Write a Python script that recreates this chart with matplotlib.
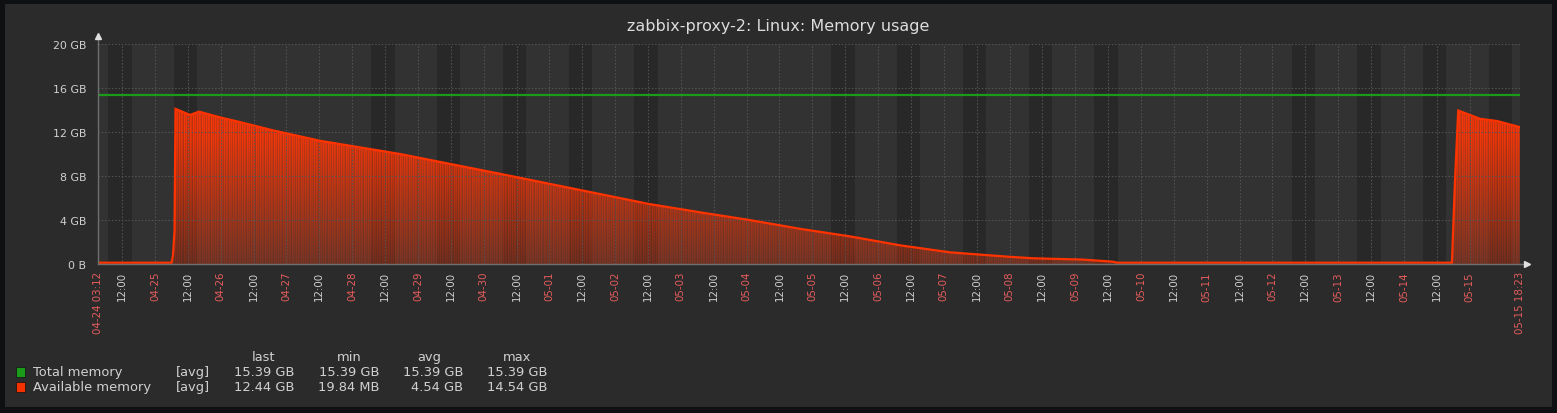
import numpy as np
import pandas as pd
import matplotlib
matplotlib.use("Agg")
import matplotlib.pyplot as plt
import matplotlib.dates as mdates
from matplotlib.patches import Rectangle

W, H = 1557, 414

# data (GB)
total_times = ["2025-04-24 03:12", "2025-05-15 18:23"]
total_values = [15.39, 15.39]

avail_times = [
    "2025-04-24 03:12", "2025-04-25 06:02", "2025-04-25 06:35", "2025-04-25 07:08",
    "2025-04-25 07:30", "2025-04-25 12:47", "2025-04-25 16:04", "2025-04-25 23:44",
    "2025-04-26 07:02", "2025-04-26 19:05", "2025-04-27 12:15", "2025-04-28 17:28",
    "2025-04-30 05:58", "2025-05-01 18:29", "2025-05-02 12:30", "2025-05-03 06:59",
    "2025-05-04 01:00", "2025-05-04 19:30", "2025-05-05 14:00", "2025-05-06 08:00",
    "2025-05-07 02:16", "2025-05-07 23:04", "2025-05-08 08:34", "2025-05-09 02:49",
    "2025-05-09 13:46", "2025-05-09 15:14", "2025-05-14 17:32", "2025-05-14 18:38",
    "2025-05-14 19:50", "2025-05-15 03:46", "2025-05-15 09:58", "2025-05-15 18:23",
]
avail_values = [
    0.12, 0.12, 0.8, 3.0,
    14.1, 13.55, 13.85, 13.33,
    12.9, 12.15, 11.2, 10.0,
    8.2, 6.36, 5.45, 4.7,
    4.0, 3.2, 2.5, 1.7,
    1.06, 0.67, 0.52, 0.40,
    0.21, 0.12, 0.12, 7.5,
    13.95, 13.2, 13.0, 12.44,
]

legend_names = ["Total memory", "Available memory"]
legend_colors = ["#1a9c1a", "#f63100"]
legend_last = ["15.39 GB", "12.44 GB"]
legend_min = ["15.39 GB", "19.84 MB"]
legend_avg = ["15.39 GB", "4.54 GB"]
legend_max = ["15.39 GB", "14.54 GB"]

yticks = [0, 4, 8, 12, 16, 20]
ytick_labels = ["0 B", "4 GB", "8 GB", "12 GB", "16 GB", "20 GB"]


def px(x, y):
    return x / W, 1 - y / H


fig = plt.figure(figsize=(W / 100, H / 100), dpi=100)
fig.patch.set_facecolor("#2b2b2b")
# dark outer border
for r in [(0, 0, W, 5), (0, 0, 5, H), (1552, 0, 5, H), (0, 408, W, 6)]:
    fig.patches.append(Rectangle((r[0] / W, 1 - (r[1] + r[3]) / H), r[2] / W, r[3] / H,
                                 transform=fig.transFigure, facecolor="#0f1012",
                                 edgecolor="none"))

l, b = px(98, 265)
ax = fig.add_axes([l, b, (1520 - 98) / W, 220 / H])
ax.set_facecolor("#323232")

t_start = pd.Timestamp(total_times[0])
t_end = pd.Timestamp(total_times[-1])
x0, x1 = mdates.date2num(t_start), mdates.date2num(t_end)

# working time bands (Mon-Fri)
for d in pd.date_range("2025-04-24", "2025-05-15", freq="D"):
    if d.weekday() < 5:
        ax.axvspan(d + pd.Timedelta(hours=7), d + pd.Timedelta(hours=15.5),
                   color="#282828", lw=0, zorder=0)

xa = mdates.date2num(pd.to_datetime(avail_times))
ya = np.array(avail_values)

# gradient fill with vertical streaks
ny, nx = 220, 1422
vals = (np.arange(ny) + 0.5) / ny * 20
alpha = np.clip(0.36 + 0.62 * vals / 12, 0, 0.97)
pattern = np.array([1.0, 0.75, 0.95, 0.87, 0.68, 1.0, 0.82, 0.93, 0.72])
stripes = pattern[np.arange(nx) % len(pattern)]
img = np.zeros((ny, nx, 4))
img[..., 0] = 1.0
img[..., 1] = 0.22
img[..., 2] = 0.03
img[..., 3] = alpha[:, None] * stripes[None, :]
poly = ax.fill_between(xa, ya, 0, facecolor="none", edgecolor="none")
im = ax.imshow(img, extent=[x0, x1, 0, 20], origin="lower", aspect="auto",
               interpolation="nearest", zorder=2)
im.set_clip_path(poly.get_paths()[0], transform=ax.transData)

ax.plot(xa, ya, color="#ff3300", lw=1.6, zorder=4, solid_joinstyle="miter")
ax.plot(mdates.date2num(pd.to_datetime(total_times)), total_values,
        color="#1a9c1a", lw=1.6, zorder=4)

ax.set_xlim(x0, x1)
ax.set_ylim(0, 20)

# x ticks every 12h plus the range ends
ticks = [t_start] + list(pd.date_range("2025-04-24 12:00", "2025-05-15 00:00", freq="12h")) + [t_end]
labels = [t.strftime("%m-%d %H:%M") if i in (0, len(ticks) - 1)
          else (t.strftime("%m-%d") if t.hour == 0 else "12:00")
          for i, t in enumerate(ticks)]
ax.set_xticks(mdates.date2num(ticks))
ax.set_xticklabels(labels, rotation=90, fontsize=7.4, va="top", ha="center")
for lab, txt in zip(ax.get_xticklabels(), labels):
    lab.set_color("#d0d0d0" if txt == "12:00" else "#e65c5c")
ax.set_yticks(yticks)
ax.set_yticklabels(ytick_labels, fontsize=7.9, color="#d0d0d0")
ax.tick_params(axis="both", length=0)
ax.tick_params(axis="x", pad=5)
ax.tick_params(axis="y", pad=8.5)

ax.grid(True, color="#565656", lw=0.8, linestyle=(0, (1.2, 1.8)), zorder=5)
ax.set_axisbelow(False)
for s in ["top", "right"]:
    ax.spines[s].set_visible(False)
for s in ["left", "bottom"]:
    ax.spines[s].set_color("#6e6e6e")
    ax.spines[s].set_linewidth(1)
    ax.spines[s].set_zorder(6)

# axis arrows
ax.plot([0, 0], [1, 1.035], transform=ax.transAxes, color="#6e6e6e", lw=1, clip_on=False)
ax.plot([1, 1.005], [0, 0], transform=ax.transAxes, color="#6e6e6e", lw=1, clip_on=False)
ax.plot([0], [1.035], marker="^", ms=4, color="#e0e0e0", transform=ax.transAxes, clip_on=False)
ax.plot([1.005], [0], marker=">", ms=4, color="#e0e0e0", transform=ax.transAxes, clip_on=False)

fig.text(*px(778, 26), "zabbix-proxy-2: Linux: Memory usage", ha="center", va="center",
         fontsize=11.5, color="#dcdcdc")

# legend table
fs = 9.4
hy = 358
for hx, h in zip([264, 349, 429, 517], ["last", "min", "avg", "max"]):
    fig.text(*px(hx, hy), h, ha="center", va="center", fontsize=fs, color="#d0d0d0")
for i, name in enumerate(legend_names):
    y = 373 + 15 * i
    fig.patches.append(Rectangle(px(16, y + 5), 9 / W, 10 / H, transform=fig.transFigure,
                                 facecolor=legend_colors[i], edgecolor="#111111", lw=0.5))
    fig.text(*px(33, y), name, ha="left", va="center", fontsize=fs, color="#d0d0d0")
    fig.text(*px(176, y), "[avg]", ha="left", va="center", fontsize=fs, color="#d0d0d0")
    for rx, col in zip([294, 379, 463, 547], [legend_last, legend_min, legend_avg, legend_max]):
        fig.text(*px(rx, y), col[i], ha="right", va="center", fontsize=fs, color="#d0d0d0")

fig.savefig("out.png", dpi=100, facecolor=fig.get_facecolor())
